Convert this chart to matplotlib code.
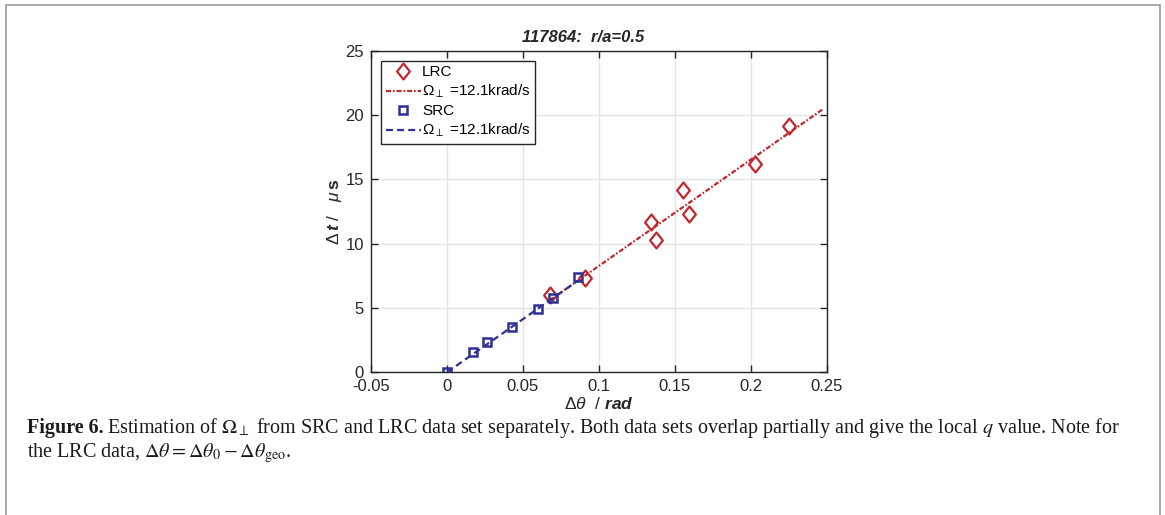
import matplotlib
matplotlib.use("Agg")
import matplotlib.pyplot as plt
from matplotlib.patches import Rectangle
from matplotlib.path import Path
import numpy as np

plt.rcParams['font.family'] = ['Liberation Sans', 'DejaVu Sans']
plt.rcParams['mathtext.fontset'] = 'custom'
plt.rcParams['mathtext.rm'] = 'Liberation Sans'
plt.rcParams['mathtext.it'] = 'Liberation Sans:italic'
plt.rcParams['mathtext.bf'] = 'Liberation Sans:bold'
plt.rcParams['mathtext.bfit'] = 'Liberation Sans:italic:bold'
plt.rcParams['lines.scale_dashes'] = False

# shot 117864, r/a = 0.5
lrc_dtheta = [0.0678, 0.0909, 0.1341, 0.1374, 0.1556, 0.1591, 0.2030, 0.2250]
lrc_dt = [6.01, 7.31, 11.66, 10.26, 14.17, 12.31, 16.22, 19.17]
src_dtheta = [0.0, 0.0169, 0.0264, 0.0430, 0.0597, 0.0700, 0.0863]
src_dt = [0.0, 1.55, 2.36, 3.50, 4.90, 5.78, 7.44]

omega_lrc = 12.1   # krad/s
omega_src = 12.1   # krad/s
lrc_fit_range = [0.0678, 0.2474]
src_fit_range = [0.0, 0.0863]

red = '#c1272d'
blue = '#2e3192'

# MATLAB style diamond (narrower than tall)
diamond = Path([(0, 1), (0.8, 0), (0, -1), (-0.8, 0), (0, 1)],
               [Path.MOVETO, Path.LINETO, Path.LINETO, Path.LINETO, Path.CLOSEPOLY])

fig = plt.figure(figsize=(11.65, 5.15), dpi=100)
ax = fig.add_axes([371 / 1165, 1 - 372.3 / 515, 455.7 / 1165, 321.6 / 515])

xl = np.array(lrc_fit_range)
xs = np.array(src_fit_range)
ax.plot(lrc_dtheta, lrc_dt, linestyle='none', marker=diamond, markersize=11.5,
        markerfacecolor='none', markeredgecolor=red, markeredgewidth=1.6, label='LRC')
ax.plot(xl, xl / omega_lrc * 1e3, color=red, lw=1.6, dashes=(3.6, 1.4, 1.2, 1.4),
        label=r'$\Omega_\perp$ =12.1krad/s')
ax.plot(src_dtheta, src_dt, linestyle='none', marker='s', markersize=6,
        markerfacecolor='none', markeredgecolor=blue, markeredgewidth=1.8, label='SRC')
ax.plot(xs, xs / omega_src * 1e3, color=blue, lw=1.6, dashes=(5, 3),
        label=r'$\Omega_\perp$ =12.1krad/s')

ax.set_xlim(-0.05, 0.25)
ax.set_ylim(0, 25)
ax.set_xticks([-0.05, 0, 0.05, 0.1, 0.15, 0.2, 0.25])
ax.set_xticklabels(['-0.05', '0', '0.05', '0.1', '0.15', '0.2', '0.25'])
ax.set_yticks([0, 5, 10, 15, 20, 25])
ax.grid(True, color='#e3e3e3', lw=1)
ax.set_axisbelow(True)
ax.tick_params(direction='in', top=True, right=True, length=5, width=1,
               labelsize=12, colors='#262626')
ax.tick_params(axis='x', pad=5)
ax.tick_params(axis='y', pad=5)
for s in ax.spines.values():
    s.set_color('#262626')
    s.set_linewidth(1)

ax.set_title('117864:  r/a=0.5', fontsize=12, fontweight='bold',
             fontstyle='italic', color='#262626', pad=6, x=0.466)
ax.set_xlabel(r'$\Delta\theta$  / $\mathbfit{rad}$', fontsize=12.5,
              color='#262626', labelpad=1)
ax.set_ylabel(r'$\Delta\,\mathbfit{t}$ /   $\mu\,\mathbf{s}$', fontsize=12.5,
              color='#262626', labelpad=1)

leg = ax.legend(loc='upper left', fontsize=11, handlelength=2.3,
                handletextpad=0.1, borderpad=0.3, labelspacing=0.25,
                borderaxespad=0.65, fancybox=False, framealpha=1)
leg.get_frame().set_edgecolor('#262626')
leg.get_frame().set_linewidth(1)

# figure panel frame
fig.patches.append(Rectangle((6 / 1165, -0.2), 1154 / 1165, 1.2 - 5 / 515,
                             transform=fig.transFigure, fill=False,
                             edgecolor='#9a9a9a', lw=1.2))

# caption
cap_kw = dict(family='Liberation Serif', fontsize=14.5, math_fontfamily='stix',
              color='#1a1a1a', va='baseline')
head = fig.text(27 / 1165, 1 - 433 / 515, 'Figure 6.', fontweight='bold', **cap_kw)
fig.canvas.draw()
bb = head.get_window_extent()
fig.text(bb.x1 / 1165 + 0.003, 1 - 433 / 515,
         r'Estimation of $\mathit{\Omega}_\perp$ from SRC and LRC data set separately. '
         r'Both data sets overlap partially and give the local $q$ value. Note for',
         **cap_kw)
fig.text(27 / 1165, 1 - 457 / 515,
         r'the LRC data, $\mathit{\Delta\theta} = \mathit{\Delta\theta}_0 - '
         r'\mathit{\Delta\theta}_{\rm geo}$.', **cap_kw)

fig.savefig('out.png', dpi=100)
